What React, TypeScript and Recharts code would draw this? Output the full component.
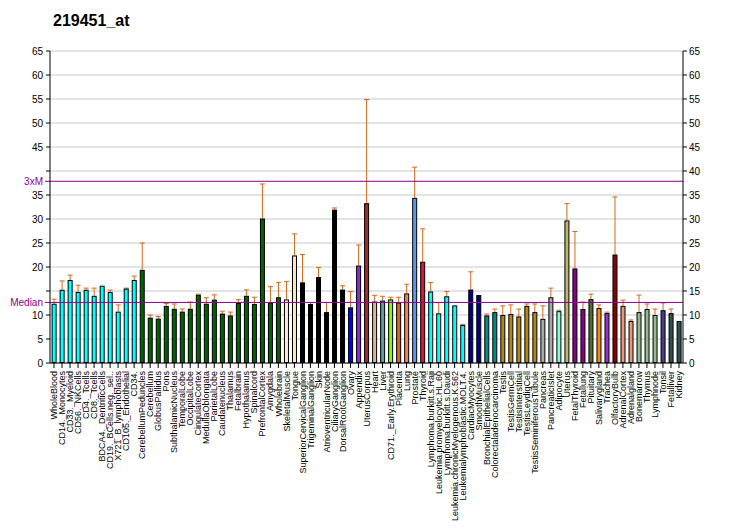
import React from 'react';
import { BarChart, Bar, XAxis, YAxis, CartesianGrid, ReferenceLine, Cell } from 'recharts';

const TISSUES = [
  'WholeBlood', 'CD14._Monocytes', 'CD33._Myeloid', 'CD56._NKCells', 'CD4._Tcells', 'CD8._Tcells',
  'BDCA4._DentriticCells', 'CD19._BCells.neg._sel..', 'X721_B_lymphoblasts', 'CD105._Endothelial', 'CD34.',
  'CerebellumPeduncles', 'Cerebellum', 'GlobusPallidus', 'Pons', 'SubthalamicNucleus', 'TemporalLobe',
  'OccipitalLobe', 'CingulateCortex', 'MedullaOblongata', 'ParietalLobe', 'Caudatenucleus', 'Thalamus',
  'Fetalbrain', 'Hypothalamus', 'Spinalcord', 'PrefrontalCortex', 'Amygdala', 'Wholebrain',
  'SkeletalMuscle', 'Tongue', 'SuperiorCervicalGanglion', 'TrigeminalGanglion', 'Skin',
  'AtrioventricularNode', 'CiliaryGanglion', 'DorsalRootGanglion', 'Ovary', 'Appendix', 'UterusCorpus',
  'Heart', 'Liver', 'CD71._Early.Erythroid', 'Placenta', 'Lung', 'Prostate', 'Thyroid',
  'Lymphoma.burkitt.s.Raji', 'Leukemia.promyelocytic.HL.60', 'Lymphoma.burkitt.s.Daudi',
  'Leukemia.chronicMyelogenous.K.562', 'Leukemialymphoblastic.MOLT.4.', 'CardiacMyocytes', 'SmoothMuscle',
  'BronchialEpithelialCells', 'Colorectaladenocarcinoma', 'Testis', 'TestisGermCell', 'TestisInterstitial',
  'TestisLeydigCell', 'TestisSeminiferousTubule', 'Pancreas', 'PancreaticIslet', 'Adipocyte', 'Uterus',
  'FetalThyroid', 'Fetallung', 'Pituitary', 'Salivarygland', 'Trachea', 'OlfactoryBulb', 'AdrenalCortex',
  'Adrenalgland', 'Bonemarrow', 'Thymus', 'Lymphnode', 'Tonsil', 'Fetalliver', 'Kidney',
];

const VALUES = [
  12.35, 15.25, 17.3, 14.8, 15.25, 14.0, 16.1, 14.8, 10.7, 15.5, 17.3,
  19.4, 9.45, 9.25, 11.9, 11.3, 10.7, 11.3, 14.2, 12.35, 13.2, 10.3, 9.9, 12.5, 14.0, 12.3, 30.1, 12.6, 13.7,
  13.25, 22.4, 16.8, 12.3, 17.9, 10.6, 31.95, 15.3, 11.6, 20.3, 33.3,
  12.8, 13.0, 13.25, 12.6, 14.5, 34.4, 21.1,
  14.9, 10.35, 13.9, 12.0, 7.9, 15.3, 14.15,
  9.9, 10.6, 10.0, 10.2, 9.7, 11.9, 10.6, 9.2, 13.7, 10.8, 29.7,
  19.7, 11.25, 13.3, 11.45, 10.4, 22.6, 11.9, 8.75, 10.6, 11.25, 10.0, 11.0, 10.4, 8.75,
];

// upper end of each error bar (same as value when no bar is shown)
const ERR_TOP = [
  13.3, 17.1, 18.3, 16.2, 15.6, 15.6, 16.1, 15.2, 12.1, 15.6, 18.1,
  25.0, 10.0, 9.7, 12.4, 12.3, 11.25, 12.7, 14.35, 13.6, 14.2, 10.8, 10.6, 13.2, 15.25, 13.7, 37.3, 15.9, 16.8,
  17.0, 26.9, 22.6, 12.6, 19.9, 12.6, 32.3, 16.1, 14.9, 24.6, 54.9,
  14.1, 13.9, 13.7, 13.7, 16.4, 40.8, 27.95,
  16.8, 12.6, 14.9, 12.0, 8.05, 19.0, 14.15,
  10.2, 11.25, 11.9, 12.1, 11.25, 12.3, 12.3, 11.9, 15.6, 11.0, 33.2,
  27.4, 12.7, 14.35, 12.1, 10.6, 34.6, 13.1, 8.97, 14.15, 12.3, 11.25, 12.5, 11.25, 8.75,
];

const COLORS = [
  '#00FFFF', '#00FFFF', '#00FFFF', '#00FFFF', '#00FFFF', '#00FFFF', '#00FFFF', '#00FFFF', '#00FFFF', '#00FFFF', '#00FFFF',
  '#006400', '#006400', '#006400', '#006400', '#006400', '#006400', '#006400', '#006400', '#006400', '#006400',
  '#006400', '#006400', '#006400', '#006400', '#006400', '#006400', '#006400', '#006400',
  '#FFEBCD', '#FFE4C4', '#000000', '#000000', '#000000', '#000000', '#000000', '#000000',
  '#0000FF', '#8A2BE2', '#A52A2A', '#DEB887', '#5F9EA0', '#7FFF00', '#D2691E', '#FF7F50', '#6495ED', '#DC143C',
  '#00FFFF', '#00FFFF', '#00FFFF', '#00FFFF', '#00FFFF',
  '#00008B', '#00008B', '#008B8B', '#008B8B',
  '#B8860B', '#B8860B', '#B8860B', '#B8860B', '#B8860B',
  '#A9A9A9', '#A9A9A9', '#7FFFD4', '#BDB76B', '#8B008B', '#8B008B', '#556B2F', '#FF8C00', '#9932CC', '#8B0000',
  '#E9967A', '#E9967A', '#8FBC8F', '#8FBC8F', '#8FBC8F', '#483D8B', '#2F4F4F', '#2F4F4F',
];

const Y_TICKS = [0, 5, 10, 15, 20, 25, 30, 35, 40, 45, 50, 55, 60, 65];
const LEFT_HIDDEN = [15, 40];
const MEDIAN = 12.62;
const THREE_X_M = 37.86;

const data = TISSUES.map((name, i) => ({ name, value: VALUES[i], errTop: ERR_TOP[i] }));

const FONT = "'Liberation Sans', Arial, sans-serif";
const PURPLE = '#8B008B';
const ERR_COLOR = '#D2691E';

const BarShape = (props: any) => {
  const { x, y, width, height, fill, payload, index } = props;
  const v = payload.value;
  const pxPerUnit = v ? height / v : 0;
  const cx = x + width / 2;
  const err = payload.errTop - v;
  const yTop = y - err * pxPerUnit;
  return (
    <g>
      {err > 0 && (
        <g stroke={ERR_COLOR} strokeWidth={1}>
          <line x1={cx} y1={y} x2={cx} y2={yTop} />
          <line x1={cx - 2.5} y1={yTop} x2={cx + 2.5} y2={yTop} />
        </g>
      )}
      <rect
        x={x + 0.5}
        y={y + 0.5}
        width={Math.max(width - 1, 0)}
        height={Math.max(height - 1, 0)}
        fill={fill || COLORS[index]}
        stroke="#000"
        strokeWidth={1}
      />
    </g>
  );
};

const XTick = (props: any) => {
  const { x, y, payload } = props;
  return (
    <text
      x={x}
      y={y}
      transform={`rotate(-90, ${x}, ${y})`}
      textAnchor="end"
      dy="0.35em"
      fontSize={9}
      fontFamily={FONT}
      fill="#000"
    >
      {payload.value}
    </text>
  );
};

const LeftTick = (props: any) => {
  const { x, y, payload } = props;
  if (LEFT_HIDDEN.includes(payload.value)) return <g />;
  return (
    <text x={x} y={y} textAnchor="end" dy="0.35em" fontSize={10} fontFamily={FONT} fill="#000">
      {payload.value}
    </text>
  );
};

const RightTick = (props: any) => {
  const { x, y, payload } = props;
  return (
    <text x={x} y={y} textAnchor="start" dy="0.35em" fontSize={10} fontFamily={FONT} fill="#000">
      {payload.value}
    </text>
  );
};

const RefLabel = (props: any) => {
  const { viewBox, text } = props;
  if (!viewBox) return null;
  const x = viewBox.x;
  const y = viewBox.y;
  return (
    <g>
      <line x1={x - 5} y1={y} x2={x} y2={y} stroke={PURPLE} strokeWidth={1} />
      <text x={x - 7} y={y} dy="0.35em" textAnchor="end" fontSize={10} fontFamily={FONT} fill={PURPLE}>
        {text}
      </text>
    </g>
  );
};

export default function App() {
  return (
    <div style={{ position: 'absolute', left: 0, top: 0, width: 732, height: 530, background: '#fff' }}>
      <div
        style={{
          position: 'absolute',
          left: 53,
          top: 13,
          fontFamily: FONT,
          fontWeight: 'bold',
          fontSize: 16,
          lineHeight: '16px',
          color: '#000',
        }}
      >
        219451_at
      </div>
      <BarChart
        width={732}
        height={530}
        data={data}
        margin={{ top: 51, right: 5, bottom: 5, left: 6 }}
        barCategoryGap="20%"
      >
        <CartesianGrid horizontal vertical={false} stroke="#C8C8C8" strokeWidth={1} />
        <XAxis
          dataKey="name"
          interval={0}
          height={162}
          tick={<XTick />}
          tickSize={5}
          tickMargin={3}
          axisLine={{ stroke: '#000' }}
          tickLine={{ stroke: '#000' }}
        />
        <YAxis
          domain={[0, 65]}
          ticks={Y_TICKS}
          width={44}
          tick={<LeftTick />}
          tickSize={4}
          tickMargin={3}
          axisLine={{ stroke: '#000' }}
          tickLine={{ stroke: '#000' }}
          interval={0}
        />
        <YAxis
          yAxisId="right"
          orientation="right"
          domain={[0, 65]}
          ticks={Y_TICKS}
          width={44}
          tick={<RightTick />}
          tickSize={4}
          tickMargin={2}
          axisLine={{ stroke: '#000' }}
          tickLine={{ stroke: '#000' }}
          interval={0}
          allowDataOverflow
        />
        <Bar dataKey="value" isAnimationActive={false} shape={<BarShape />}>
          {data.map((d, i) => (
            <Cell key={d.name} fill={COLORS[i]} />
          ))}
        </Bar>
        <ReferenceLine y={MEDIAN} stroke={PURPLE} strokeWidth={1} label={<RefLabel text="Median" />} />
        <ReferenceLine y={THREE_X_M} stroke={PURPLE} strokeWidth={1} label={<RefLabel text="3xM" />} />
      </BarChart>
    </div>
  );
}
